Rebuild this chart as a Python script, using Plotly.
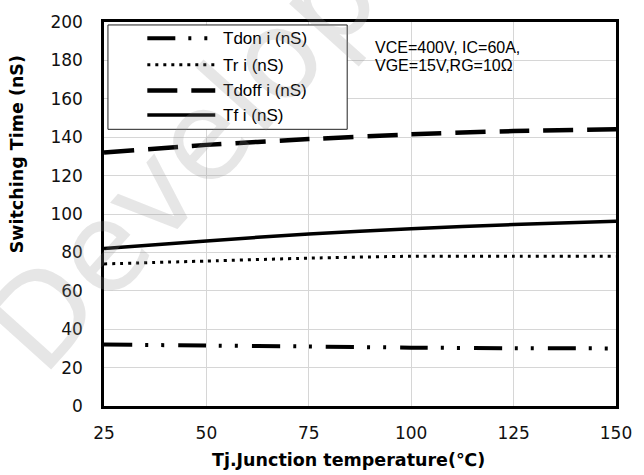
import plotly.graph_objects as go

# Junction temperature (°C) and switching times (nS)
temps = [25, 50, 75, 100, 125, 150]
tdon = [32, 31.5, 31, 30.4, 30.1, 30]
tr = [74, 75.5, 77, 78, 78, 78]
tdoff = [132, 136, 139, 141.5, 143.2, 144.2]
tf = [82, 86, 89.6, 92.3, 94.5, 96.2]

series_names = ["Tdon i (nS)", "Tr i (nS)", "Tdoff i (nS)", "Tf i (nS)"]
x_ticks = [25, 50, 75, 100, 125, 150]
y_ticks = [0, 20, 40, 60, 80, 100, 120, 140, 160, 180, 200]

W, H = 644, 475
L, R, T, B = 104, 20, 16, 69
PW, PH = W - L - R, H - T - B


def px(xp):
    return (xp - L) / PW


def py(yp):
    return (H - B - yp) / PH


styles = [
    dict(width=4, dash="28px,13px,3px,13px,3px,14px"),
    dict(width=3, dash="3px,5px"),
    dict(width=4.5, dash="30px,14px"),
    dict(width=3.5, dash="solid"),
]
values = [tdon, tr, tdoff, tf]

fig = go.Figure()
for name, vals, st in zip(series_names, values, styles):
    fig.add_trace(go.Scatter(
        x=temps, y=vals, name=name, mode="lines",
        line=dict(color="black", width=st["width"], dash=st["dash"],
                  shape="spline", smoothing=0.6),
        showlegend=False,
    ))

shapes = []
# white panel behind the test-condition note
shapes.append(dict(type="rect", xref="paper", yref="paper",
                   x0=px(358), x1=px(572), y0=py(80), y1=py(25),
                   fillcolor="white", line=dict(width=0), layer="between"))
# legend frame
shapes.append(dict(type="rect", xref="paper", yref="paper",
                   x0=px(108), x1=px(351), y0=py(125), y1=py(19),
                   fillcolor="white", line=dict(color="#222", width=1),
                   layer="above"))

annotations = []
rows = [32.5, 59.5, 85.5, 110.5]
for name, st, yrow in zip(series_names, styles, rows):
    shapes.append(dict(type="line", xref="paper", yref="paper",
                       x0=px(148), x1=px(217), y0=py(yrow), y1=py(yrow),
                       line=dict(color="black", width=st["width"], dash=st["dash"]),
                       layer="above"))
    annotations.append(dict(xref="paper", yref="paper", x=px(223), y=py(yrow + 0.5),
                            xanchor="left", yanchor="middle", showarrow=False,
                            text=name,
                            font=dict(family="Liberation Sans, Arial", size=17, color="black")))

# test conditions
for txt, yc in [("VCE=400V, IC=60A,", 41.5), ("VGE=15V,RG=10Ω", 60.5)]:
    annotations.append(dict(xref="paper", yref="paper", x=px(377), y=py(yc),
                            xanchor="left", yanchor="middle", showarrow=False,
                            text=txt,
                            font=dict(family="Liberation Sans, Arial", size=16, color="black")))

# axis titles
annotations.append(dict(xref="paper", yref="paper", x=px(352), y=py(461),
                        xanchor="center", yanchor="middle", showarrow=False,
                        text="<b>Tj.Junction temperature(℃)</b>",
                        font=dict(family="DejaVu Sans", size=17.5, color="black")))
annotations.append(dict(xref="paper", yref="paper", x=px(16), y=py(150),
                        xanchor="center", yanchor="middle", showarrow=False,
                        textangle=-90,
                        text="<b>Switching Time (nS)</b>",
                        font=dict(family="DejaVu Sans", size=17.5, color="black")))

# faint diagonal watermark
annotations.append(dict(xref="paper", yref="paper", x=px(248), y=py(84),
                        xanchor="center", yanchor="middle", showarrow=False,
                        textangle=-48,
                        text="Developing",
                        font=dict(family="DejaVu Sans", size=124,
                                  color="rgba(140,140,140,0.22)")))

axis_common = dict(
    showline=True, linecolor="black", linewidth=2.5, mirror=True,
    showgrid=True, gridcolor="#d6d6d6", gridwidth=1.2,
    zeroline=False, ticks="",
    tickfont=dict(family="DejaVu Sans", size=17, color="#111"),
)

fig.update_layout(
    width=W, height=H,
    margin=dict(l=L, r=R, t=T, b=B),
    paper_bgcolor="white", plot_bgcolor="white",
    shapes=shapes, annotations=annotations,
    xaxis=dict(range=[25, 150], tickvals=x_ticks, ticklabelstandoff=10, **axis_common),
    yaxis=dict(range=[0, 200], tickvals=y_ticks, ticklabelstandoff=15, **axis_common),
)

fig.write_html("out.html")
